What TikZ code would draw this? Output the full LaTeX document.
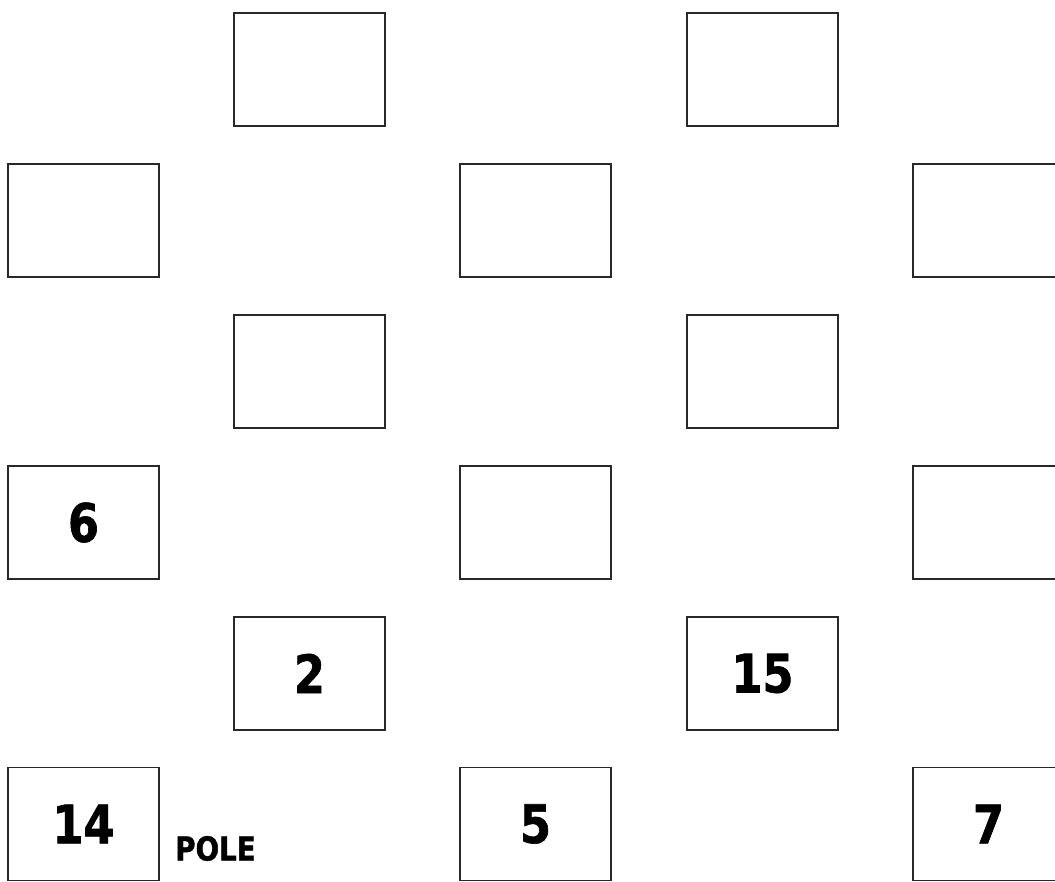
\documentclass[tikz,border=0pt]{standalone}
\usepackage{fontspec}
\setmainfont{DejaVu Sans}
\newfontfamily\boxfont{DejaVu Sans}[FakeStretch=0.84,FakeBold=1.2]
\usepackage{tikz}
\usetikzlibrary{positioning}
\definecolor{boxline}{RGB}{40,40,40}

\begin{document}
\begin{tikzpicture}[x=1pt,y=-1pt,
  s/.style={draw=boxline,line width=1.3pt,minimum width=151pt,minimum height=113pt,
            inner sep=0pt,font=\boxfont\bfseries\fontsize{53}{53}\selectfont},
  lbl/.style={inner sep=0pt,font=\boxfont\bfseries\fontsize{33}{33}\selectfont}]
  \useasboundingbox (0,0) rectangle (1055,881);
  % first row
  \node[s] (a1) at (309.5,69.5)  {};
  \node[s] (a2) at (762.5,69.5)  {};
  % second row
  \node[s] (b1) at (83.5,220.5)  {};
  \node[s] (b2) at (535.5,220.5) {};
  \node[s] (b3) at (988.5,220.5) {};
  % third row
  \node[s] (c1) at (309.5,371.5) {};
  \node[s] (c2) at (762.5,371.5) {};
  % fourth row
  \node[s] (d1) at (83.5,522.5)  {6};
  \node[s] (d2) at (535.5,522.5) {};
  \node[s] (d3) at (988.5,522.5) {};
  % fifth row
  \node[s] (e1) at (309.5,673.5) {2};
  \node[s] (e2) at (762.5,673.5) {15};
  % last row
  \node[s] (f1) at (83.5,824)    {14};
  \node[s] (f2) at (535.5,824)   {5};
  \node[s] (f3) at (988.5,824)   {7};
  \node[lbl] (pole) at (215.5,848.5) {POLE};
\end{tikzpicture}
\end{document}
